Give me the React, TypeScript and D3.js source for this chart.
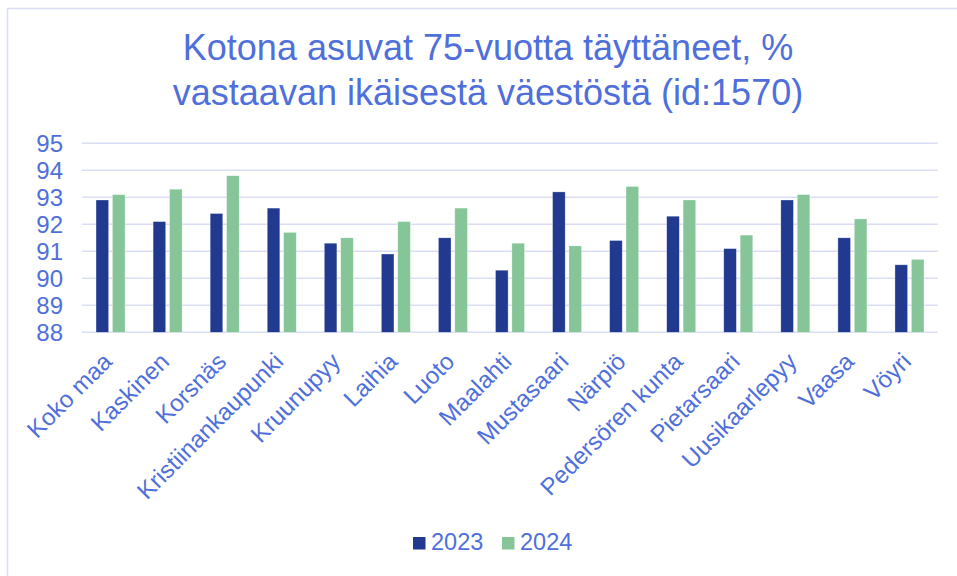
import React from "react";
import * as d3 from "d3";

const categories = [
  "Koko maa", "Kaskinen", "Korsnäs", "Kristiinankaupunki", "Kruunupyy", "Laihia", "Luoto",
  "Maalahti", "Mustasaari", "Närpiö", "Pedersören kunta", "Pietarsaari", "Uusikaarlepyy", "Vaasa", "Vöyri",
];
const values2023 = [92.9, 92.1, 92.4, 92.6, 91.3, 90.9, 91.5, 90.3, 93.2, 91.4, 92.3, 91.1, 92.9, 91.5, 90.5];
const values2024 = [93.1, 93.3, 93.8, 91.7, 91.5, 92.1, 92.6, 91.3, 91.2, 93.4, 92.9, 91.6, 93.1, 92.2, 90.7];
const seriesNames = ["2023", "2024"];
const yTicks = [88, 89, 90, 91, 92, 93, 94, 95];
const titleLines = ["Kotona asuvat 75-vuotta täyttäneet, %", "vastaavan ikäisestä väestöstä (id:1570)"];

const W = 957, H = 576;
const left = 82, right = 938, top = 143.3, bottom = 332.3;
const textColor = "#4F6FDA";
const gridColor = "#D9DEF5";
const colors = ["#213A8F", "#86C598"];
const font = "'Liberation Sans', Arial, sans-serif";

export default function App() {
  const x = d3.scaleBand<string>().domain(categories).range([left, right]).padding(0);
  const y = d3.scaleLinear().domain([88, 95]).range([bottom, top]);
  const bw = 12.6, gap = 3.8;
  const series = [values2023, values2024];
  return (
    <svg width={W} height={H} style={{ position: "absolute", left: 0, top: 0, background: "#fff" }} fontFamily={font}>
      <rect x={7.5} y={8.5} width={W + 10} height={H + 10} fill="#fff" stroke={gridColor} strokeWidth={1.5} />
      {titleLines.map((t, i) => (
        <text key={i} x={488} y={60 + i * 45} textAnchor="middle" fontSize={36} fill={textColor}>{t}</text>
      ))}
      {yTicks.map((t) => (
        <g key={t}>
          <line x1={left} x2={right} y1={y(t)} y2={y(t)} stroke={gridColor} strokeWidth={1.5} />
          <text x={63} y={y(t)} dy="0.36em" textAnchor="end" fontSize={24} fill={textColor}>{t}</text>
        </g>
      ))}
      {categories.map((c, i) => {
        const cx = x(c)! + x.bandwidth() / 2;
        return (
          <g key={c}>
            {series.map((s, j) => {
              const bx = j === 0 ? cx - gap / 2 - bw : cx + gap / 2;
              return (
                <rect key={j} x={bx} y={y(s[i])} width={bw} height={y(88) - y(s[i])} fill={colors[j]} stroke="#fff" strokeOpacity={0.5} strokeWidth={0.6} />
              );
            })}
            <text transform={`translate(${cx + 3},${363}) rotate(-45)`} textAnchor="end" fontSize={24} fill={textColor}>{c}</text>
          </g>
        );
      })}
      {seriesNames.map((n, j) => (
        <g key={n} transform={`translate(${413 + j * 89},537)`}>
          <rect x={0} y={0} width={12.5} height={12.5} fill={colors[j]} />
          <text x={18} y={13} fontSize={23.5} fill={textColor}>{n}</text>
        </g>
      ))}
    </svg>
  );
}
